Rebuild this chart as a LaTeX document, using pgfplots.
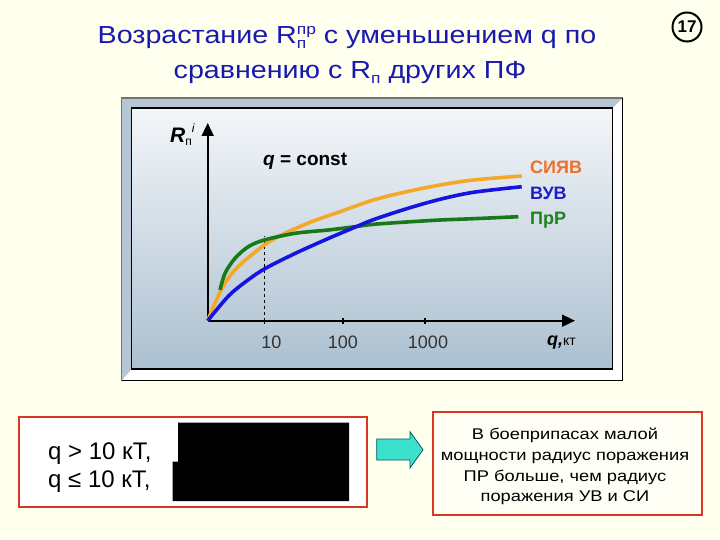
\documentclass[border=0pt]{standalone}
\usepackage{pgfplots}
\pgfplotsset{compat=1.18}
\usetikzlibrary{arrows.meta}
\usepackage{fontspec}
\setmainfont{Liberation Sans}
\newfontfamily\titlefont{Liberation Sans}[FakeStretch=1.16]
\newfontfamily\boxfont{Liberation Sans}[FakeStretch=1.18]
\definecolor{cream}{RGB}{255,255,238}
\definecolor{titleblue}{RGB}{25,25,175}
\definecolor{orangeC}{RGB}{245,168,40}
\definecolor{orangeL}{RGB}{238,112,40}
\definecolor{blueC}{RGB}{20,20,225}
\definecolor{blueL}{RGB}{30,30,200}
\definecolor{greenC}{RGB}{25,120,25}
\definecolor{greenL}{RGB}{30,130,30}
\definecolor{boxred}{RGB}{215,55,35}
\definecolor{panelTop}{RGB}{243,246,249}
\definecolor{panelBot}{RGB}{172,192,208}
\definecolor{bevel}{RGB}{182,198,212}
\definecolor{cyanA}{RGB}{60,225,205}
\begin{document}
\begin{tikzpicture}[x=1pt,y=-1pt]
\fill[cream] (0,0) rectangle (720,540);
% title
\node[anchor=base, inner sep=0, text=titleblue, font=\titlefont\fontsize{24.7}{26}\selectfont] at (347,43.3)
  {Возрастание R\rlap{\raisebox{-5pt}{\fontsize{15}{15}\selectfont п}}\raisebox{9pt}{\fontsize{15}{15}\selectfont пр} с уменьшением q по};
\node[anchor=base, inner sep=0, text=titleblue, font=\titlefont\fontsize{24.7}{26}\selectfont] at (350,78.3)
  {сравнению с R\raisebox{-5pt}{\fontsize{15}{15}\selectfont п} других ПФ};
\draw[line width=2pt] (687,27) circle[radius=14.5];
\node[font=\fontsize{17}{17}\selectfont\bfseries] at (687,27) {17};
% panel
\filldraw[fill=white, draw=black!75, line width=1.2pt] (121.7,98) rectangle (622.5,380.5);
\fill[bevel] (121.7,98) -- (622.5,98) -- (612.7,108) -- (131.7,108) -- (131.7,369) -- (121.7,380.5) -- cycle;
\draw[black!55, line width=1.2pt] (121.7,380.5) -- (121.7,98) -- (622.5,98);
\draw[black, line width=1.8pt] (622.5,98) -- (622.5,380.5) -- (121.7,380.5);
\shadedraw[top color=panelTop, bottom color=panelBot, draw=black, line width=1.5pt] (131.7,108) rectangle (612.7,369);
\begin{axis}[at={(207.7pt,-320.7pt)}, anchor=origin, x=1pt, y=1pt,
  xmin=0, xmax=367.3, ymin=0, ymax=197.7,
  axis lines=left,
  axis line style={line width=1.8pt, -{Triangle[length=13pt,width=12pt]}},
  xtick={56.7,135.2,217.3},
  xticklabels={\hspace{14pt}10,100,\hspace{6pt}1000},
  ytick=\empty,
  major tick length=6pt, tick align=center,
  xtick style={line width=1.2pt, black},
  xticklabel style={font=\fontsize{18}{18}\selectfont, text=black!80, anchor=base, yshift=-25pt, inner sep=0pt},
  clip=false]
\addplot[black, dashed, line width=1.1pt] coordinates {(56.6,0) (56.6,84.5)};
\addplot[orangeC, line width=3.6pt, smooth] coordinates {
 (0,0) (7.3,17.7) (17.3,37.7) (30.3,54) (56.6,75.7) (77.3,87.4) (104,99) (132.3,109)
 (165.6,120.7) (199,129) (232.3,135.7) (265.6,140.7) (314,144.7)};
\addplot[greenC, line width=3.6pt, smooth] coordinates {
 (12.3,30.7) (17.3,47.4) (27.3,62.4) (40.6,74) (56.6,80.7) (87.3,87.4) (120.6,90.7)
 (147.3,94) (165.6,96.4) (199,98.7) (232.3,100.7) (265.6,102) (310.6,104)};
\addplot[blueC, line width=3.6pt, smooth] coordinates {
 (0,0) (20.6,24.5) (37.3,38.5) (56.6,51.7) (87.3,67.2) (120.6,82.2) (147.3,93.5)
 (165.6,101) (199,112) (232.3,121.4) (265.6,128.4) (314,134)};
\end{axis}
% axis texts
\node[anchor=base west, inner sep=0] at (170,143)
  {\fontsize{21}{21}\selectfont\bfseries\itshape R\raisebox{-3pt}{\fontsize{12}{12}\selectfont\normalfont п}\raisebox{10pt}{\fontsize{12}{12}\selectfont\normalfont\itshape i}};
\node[anchor=base west, inner sep=0] at (263,166)
  {\fontsize{19}{19}\selectfont\bfseries\itshape q\upshape{} = const};
\node[anchor=base west, inner sep=0, text=orangeL, font=\fontsize{18}{18}\selectfont\bfseries] at (530,173.2) {СИЯВ};
\node[anchor=base west, inner sep=0, text=blueL, font=\fontsize{18}{18}\selectfont\bfseries] at (530,199.6) {ВУВ};
\node[anchor=base west, inner sep=0, text=greenL, font=\fontsize{18}{18}\selectfont\bfseries] at (530,224.8) {ПрР};
\node[anchor=base west, inner sep=0] at (547,345.7)
  {\fontsize{18}{18}\selectfont\bfseries\itshape q,\fontsize{14}{14}\selectfont\normalfont кт};
% bottom left box
\filldraw[fill=white, draw=boxred, line width=2pt] (19.3,416.7) rectangle (366.7,507.3);
\fill[black] (178,422.7) -- (349,422.7) -- (349,501) -- (172.7,501) -- (172.7,461.7) -- (178,461.7) -- cycle;
\node[anchor=base west, inner sep=0, font=\fontsize{24}{24}\selectfont] at (48,459.3) {q > 10 кТ,};
\node[anchor=base west, inner sep=0, font=\fontsize{24}{24}\selectfont] at (48,487.3) {q ≤ 10 кТ,};
% arrow
\filldraw[fill=cyanA, draw=teal!70!black, line width=0.8pt] (376.7,439) -- (410,439) -- (410,431.7) -- (423,449.8) -- (410,468) -- (410,460) -- (376.7,460) -- cycle;
% bottom right box
\filldraw[fill=cream!50!white, draw=boxred, line width=2pt] (433.3,411.7) rectangle (701.7,515);
\begin{scope}[every node/.style={anchor=base, inner sep=0, font=\boxfont\fontsize{15.5}{16}\selectfont}]
\node at (565,439.3) {В боеприпасах малой};
\node at (565,460) {мощности радиус поражения};
\node at (565,481.3) {ПР больше, чем радиус};
\node at (565,501.7) {поражения УВ и СИ};
\end{scope}
\end{tikzpicture}
\end{document}
